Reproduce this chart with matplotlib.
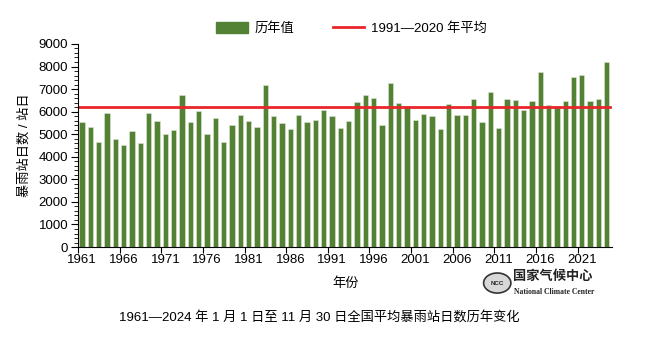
import matplotlib
matplotlib.use('Agg')
import matplotlib.pyplot as plt
from matplotlib.patches import Patch, Ellipse
from matplotlib.lines import Line2D
from matplotlib.ticker import MultipleLocator

plt.rcParams['font.family'] = ['Liberation Sans', 'Noto Sans CJK SC']

# data
years = list(range(1961, 2025))
values = [5540, 5320, 4670, 5940, 4800, 4520, 5160, 4620, 5950, 5580,
          5010, 5180, 6720, 5520, 6030, 4990, 5730, 4670, 5420, 5860,
          5600, 5330, 7180, 5800, 5480, 5230, 5850, 5540, 5610, 6070,
          5790, 5290, 5580, 6430, 6720, 6600, 5410, 7250, 6400, 6260,
          5640, 5900, 5810, 5230, 6340, 5860, 5850, 6560, 5520, 6880,
          5290, 6560, 6500, 6070, 6450, 7740, 6290, 6260, 6480, 7530,
          7640, 6480, 6560, 8210]
avg_1991_2020 = 6190
label_years = [1961, 1966, 1971, 1976, 1981, 1986, 1991, 1996, 2001, 2006, 2011, 2016, 2021]

bar_color = '#548235'
line_color = '#e8262b'

fig = plt.figure(figsize=(6.5, 3.46), dpi=100)
ax = fig.add_axes([0.12, 0.286, 0.822, 0.587])

x = list(range(len(years)))
ax.bar(x, values, width=0.64, color=bar_color, edgecolor='#dfe8d6', linewidth=0.4)
ax.plot([-0.5, 63.4], [avg_1991_2020, avg_1991_2020], color=line_color, linewidth=2)

ax.set_xlim(-0.5, 63.66)
ax.set_ylim(0, 9000)

# labels at bar centres, tick marks on category boundaries
ax.set_xticks([years.index(y) for y in label_years])
ax.set_xticklabels([str(y) for y in label_years], fontsize=9.5)
ax.set_xticks([years.index(y) - 0.5 for y in label_years], minor=True)
ax.tick_params(axis='x', which='major', length=0, pad=5)
ax.tick_params(axis='x', which='minor', length=4, width=0.8, direction='out')

ax.yaxis.set_major_locator(MultipleLocator(1000))
ax.yaxis.set_minor_locator(MultipleLocator(200))
ax.tick_params(axis='y', which='major', length=5, width=0.8, labelsize=9.5, pad=2)
ax.tick_params(axis='y', which='minor', length=3, width=0.6)

for s in ['top', 'right']:
    ax.spines[s].set_visible(False)
for s in ['left', 'bottom']:
    ax.spines[s].set_linewidth(0.8)

ax.set_ylabel('暴雨站日数 / 站日', fontsize=9.5, labelpad=6)
ax.set_xlabel('年份', fontsize=9.5, labelpad=8)

handles = [Patch(facecolor=bar_color, edgecolor=bar_color),
           Line2D([0], [0], color=line_color, linewidth=2)]
fig.legend(handles, ['历年值', '1991—2020 年平均'], loc='center',
           bbox_to_anchor=(0.541, 0.918), ncol=2, frameon=False, fontsize=9.5,
           handlelength=2.4, handleheight=0.9, columnspacing=2.9, handletextpad=0.5)

fig.text(0.492, 0.082, '1961—2024 年 1 月 1 日至 11 月 30 日全国平均暴雨站日数历年变化',
         ha='center', va='center', fontsize=9.5)

# logo
logo = Ellipse((0.765, 0.182), 0.042, 0.058, transform=fig.transFigure,
               facecolor='#d8d8d8', edgecolor='#333333', linewidth=1.2)
fig.patches.append(logo)
fig.text(0.765, 0.182, 'NCC', ha='center', va='center', fontsize=4.5,
         fontweight='bold', color='#222222')
fig.text(0.79, 0.2, '国家气候中心', ha='left', va='center', fontsize=9.5,
         fontweight='bold', color='#222222')
fig.text(0.79, 0.155, 'National Climate Center', ha='left', va='center',
         fontsize=5.5, fontweight='bold', family='Liberation Serif', color='#222222')

fig.savefig('out.png', dpi=100)
